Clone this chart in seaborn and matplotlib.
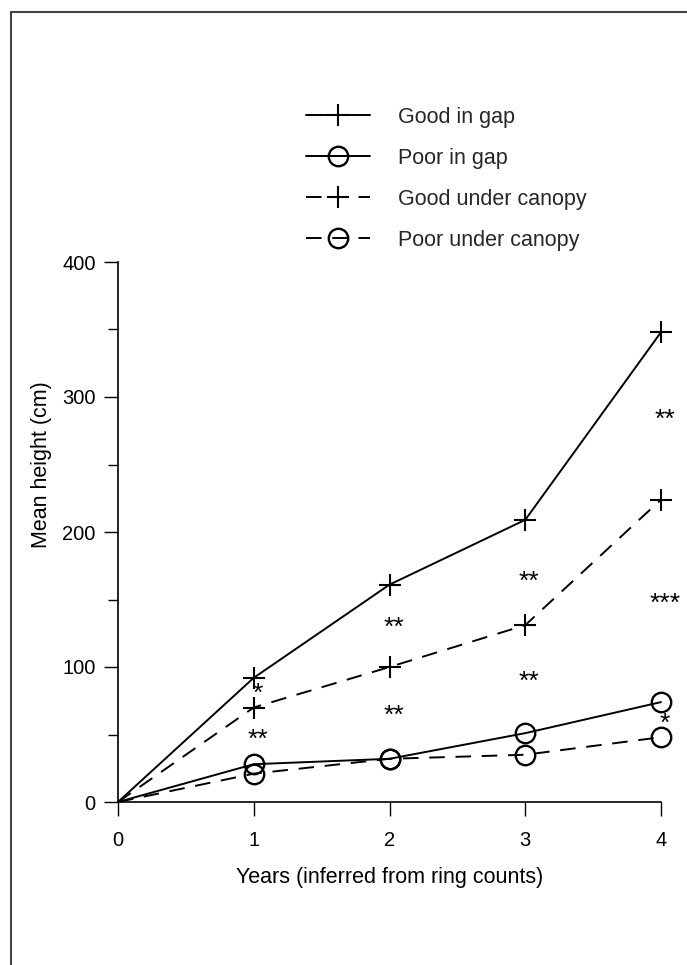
import matplotlib
matplotlib.use("Agg")
import matplotlib.pyplot as plt
import seaborn as sns
import pandas as pd
from matplotlib.lines import Line2D
from matplotlib.ticker import MultipleLocator

# ---- data ----
years = [0, 1, 2, 3, 4]
good_in_gap = [0, 92, 161, 209, 348]
poor_in_gap = [0, 28, 32, 51, 74]
good_under_canopy = [0, 70, 100, 131, 224]
poor_under_canopy = [0, 21, 32, 35, 48]
series_names = ["Good in gap", "Poor in gap", "Good under canopy", "Poor under canopy"]

# significance annotations: (year, height level, label)
sig_years = [1, 1, 2, 2, 3, 3, 4, 4, 4]
sig_levels = [80, 46, 129, 64, 163, 89, 283, 147, 58]
sig_labels = ["*", "**", "**", "**", "**", "**", "**", "***", "*"]

x_ticks = [0, 1, 2, 3, 4]
y_ticks = [0, 100, 200, 300, 400]

sns.set_theme(style="white")
plt.rcParams["font.family"] = ["Liberation Sans", "DejaVu Sans"]

fig = plt.figure(figsize=(6.87, 9.65), dpi=100)
ax = fig.add_axes([118 / 687, 1 - 802 / 965, 543 / 687, 540 / 965])

dash = (0, (8, 5.5))
styles = [
    dict(ls="-", marker="+", ms=16, mew=1.5, mfc="none"),
    dict(ls="-", marker="o", ms=14, mew=1.7, mfc="none"),
    dict(ls=dash, marker="+", ms=16, mew=1.5, mfc="none"),
    dict(ls=dash, marker="o", ms=14, mew=1.7, mfc="none"),
]
all_series = [good_in_gap, poor_in_gap, good_under_canopy, poor_under_canopy]

handles = []
for name, vals, st in zip(series_names, all_series, styles):
    df = pd.DataFrame({"year": years, "height": vals})
    sns.lineplot(data=df, x="year", y="height", ax=ax, color="black",
                 linewidth=1.4, linestyle=st["ls"], marker=st["marker"],
                 markersize=st["ms"], markeredgewidth=st["mew"],
                 markerfacecolor=st["mfc"], markeredgecolor="black",
                 markevery=list(range(1, len(years))), clip_on=False)
    handles.append(Line2D([], [], color="black", linewidth=1.4, linestyle=st["ls"],
                          marker=st["marker"], markersize=st["ms"],
                          markeredgewidth=st["mew"], markerfacecolor=st["mfc"],
                          markeredgecolor="black"))

for xv, yv, lab in zip(sig_years, sig_levels, sig_labels):
    ax.text(xv + 0.03, yv, lab, ha="center", va="center", fontsize=19, color="black")

ax.set_xlim(0, 4)
ax.set_ylim(0, 400)
ax.set_xticks(x_ticks)
ax.set_yticks(y_ticks)
ax.yaxis.set_minor_locator(MultipleLocator(50))
ax.tick_params(axis="both", which="major", direction="out", length=10, width=1.0,
               color="black", labelsize=14.5, labelcolor="black",
               left=True, bottom=True)
ax.tick_params(axis="x", which="major", pad=11)
ax.tick_params(axis="y", which="major", pad=6)
ax.tick_params(axis="y", which="minor", direction="out", length=7, width=1.0,
               color="black", left=True)
for side in ["top", "right"]:
    ax.spines[side].set_visible(False)
for side in ["left", "bottom"]:
    ax.spines[side].set_color("black")
    ax.spines[side].set_linewidth(1.2)
ax.set_xlabel("Years (inferred from ring counts)", fontsize=15.5, color="black", labelpad=12)
ax.set_ylabel("Mean height (cm)", fontsize=15.5, color="black")
ax.yaxis.set_label_coords(-0.122, 0.625)
ax.grid(False)

leg = fig.legend(handles, series_names, loc="upper left",
                 bbox_to_anchor=(297 / 687, 1 - 98 / 965), frameon=False,
                 fontsize=15.5, handlelength=3.0, handletextpad=1.3,
                 labelspacing=0.93, borderaxespad=0)

# page frame (top and left edges)
fig.add_artist(Line2D([11 / 687, 11 / 687], [0, 1 - 12 / 965], transform=fig.transFigure,
                      color="#444444", linewidth=1.5))
fig.add_artist(Line2D([11 / 687, 1], [1 - 12 / 965, 1 - 12 / 965], transform=fig.transFigure,
                      color="#444444", linewidth=1.5))

fig.savefig("out.png", dpi=100, facecolor="white")
